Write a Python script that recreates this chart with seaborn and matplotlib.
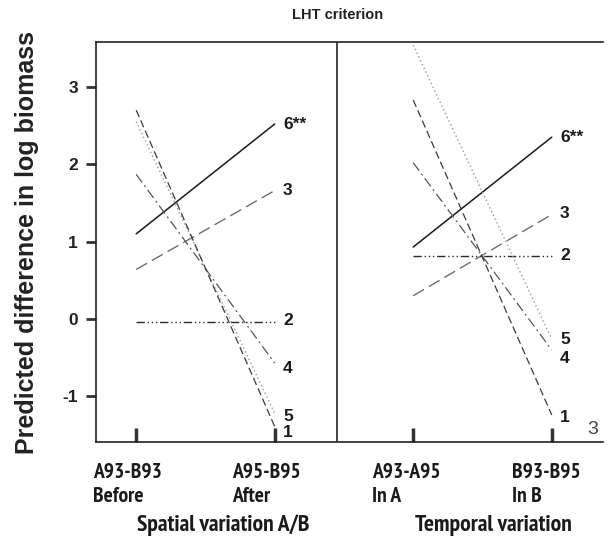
import matplotlib
matplotlib.use("Agg")
import matplotlib.pyplot as plt
import seaborn as sns
import pandas as pd

sns.set_theme(style="white")
plt.rcParams['font.family'] = ['Liberation Sans', 'DejaVu Sans']
NARROW = ['PT Sans Narrow', 'Liberation Sans', 'DejaVu Sans']

# ---- data ----
positions = [0, 1, 2, 3]
tick_labels = ["A93-B93\nBefore", "A95-B95\nAfter", "A93-A95\nIn A", "B93-B95\nIn B"]
group_labels = ["Spatial variation A/B", "Temporal variation"]
series = ["6**", "3", "2", "4", "5", "1"]
spatial_before = [1.10, 0.64, -0.04, 1.87, 2.55, 2.70]
spatial_after = [2.52, 1.66, -0.04, -0.57, -1.22, -1.39]
temporal_a = [0.93, 0.30, 0.82, 2.02, 3.54, 2.83]
temporal_b = [2.35, 1.35, 0.82, -0.40, -0.26, -1.24]

styles = {
    "6**": dict(color="#1a1a1a", ls="-", lw=1.1),
    "3": dict(color="#6e6e6e", ls=(0, (9, 4)), lw=1.0),
    "2": dict(color="#2a2a2a", ls=(0, (6, 2, 1, 2, 1, 2, 1, 2)), lw=1.0),
    "4": dict(color="#555555", ls=(0, (8, 3, 1.5, 3)), lw=0.9),
    "5": dict(color="#9a9a9a", ls=(0, (1, 2)), lw=1.0),
    "1": dict(color="#3a3a3a", ls=(0, (6, 3)), lw=0.9),
}
# label offsets in points (layout only)
label_dy_left = {"6**": 0, "3": 0, "2": 1, "4": -4, "5": -2, "1": -4}
label_dy_right = {"6**": 0, "3": 1, "2": 0, "5": 0, "4": -6, "1": -2}

rows = []
for i, s in enumerate(series):
    rows.append(dict(series=s, panel="spatial", x=positions[0], y=spatial_before[i]))
    rows.append(dict(series=s, panel="spatial", x=positions[1], y=spatial_after[i]))
    rows.append(dict(series=s, panel="temporal", x=positions[2], y=temporal_a[i]))
    rows.append(dict(series=s, panel="temporal", x=positions[3], y=temporal_b[i]))
df = pd.DataFrame(rows)

fig = plt.figure(figsize=(6.09, 5.43), dpi=100)
ax = fig.add_axes([96/609, 101/543, 507/609, 400/543])

for s in series:
    for panel in ["spatial", "temporal"]:
        d = df[(df.series == s) & (df.panel == panel)]
        st = styles[s]
        sns.lineplot(data=d, x="x", y="y", ax=ax, color=st["color"],
                     linestyle=st["ls"], linewidth=st["lw"], legend=False,
                     estimator=None, sort=False)

for i, s in enumerate(series):
    ax.annotate(s, (positions[1], spatial_after[i]), xytext=(6, label_dy_left[s]),
                textcoords="offset points", ha="left", va="center",
                fontsize=12.5, fontweight="bold", color="#1a1a1a")
    ax.annotate(s, (positions[3], temporal_b[i]), xytext=(6, label_dy_right[s]),
                textcoords="offset points", ha="left", va="center",
                fontsize=12.5, fontweight="bold", color="#1a1a1a")

ax.set_xlim(-0.29, 3.37)
ax.set_ylim(-1.59, 3.58)
ax.axvline(1.45, color="#222222", lw=1.2)

for sp in ["left", "top", "bottom"]:
    ax.spines[sp].set_color("#222222")
    ax.spines[sp].set_linewidth(1.2)
ax.spines["right"].set_visible(False)

ax.set_yticks([-1, 0, 1, 2, 3])
ax.set_yticklabels(["-1", "0", "1", "2", "3"], fontsize=12.5, fontweight="bold", color="#222222")
ax.tick_params(axis="y", direction="out", length=7, width=2, color="#333333", left=True, pad=6)

ax.set_xticks(positions)
ax.set_xticklabels([])
ax.tick_params(axis="x", direction="in", length=10, width=2.5, color="#333333", bottom=True)

# tick labels: left-aligned blocks under each tick (offsets in pixels -> points)
px = 0.72
label_dx = [-43, -43, -41, -40]
for p, lab, dx in zip(positions, tick_labels, label_dx):
    ax.annotate(lab, (p, 0), xycoords=("data", "axes fraction"),
                xytext=(dx * px, -21 * px), textcoords="offset points",
                ha="left", va="top", multialignment="left", linespacing=1.35,
                fontsize=15.5, fontweight="bold", color="#1a1a1a", family=NARROW)

ax.set_xlabel("")
ax.set_ylabel("Predicted difference in log biomass", fontsize=18, fontweight="bold",
              color="#222222", labelpad=17)

group_dx = [87, 80]
for p, lab, dx in zip([0, 2], group_labels, group_dx):
    ax.annotate(lab, (p, 0), xycoords=("data", "axes fraction"),
                xytext=(dx * px, -83 * px), textcoords="offset points",
                ha="center", va="center", fontsize=17, fontweight="bold",
                color="#1a1a1a", family=NARROW)

fig.text(338/609, 1 - 15/543, "LHT criterion", ha="center", va="center",
         fontsize=10.5, fontweight="bold", color="#222222")
fig.text(593/609, 1 - 430/543, "3", ha="center", va="center", fontsize=14,
         color="#444444")

fig.savefig("out.png", dpi=100)
